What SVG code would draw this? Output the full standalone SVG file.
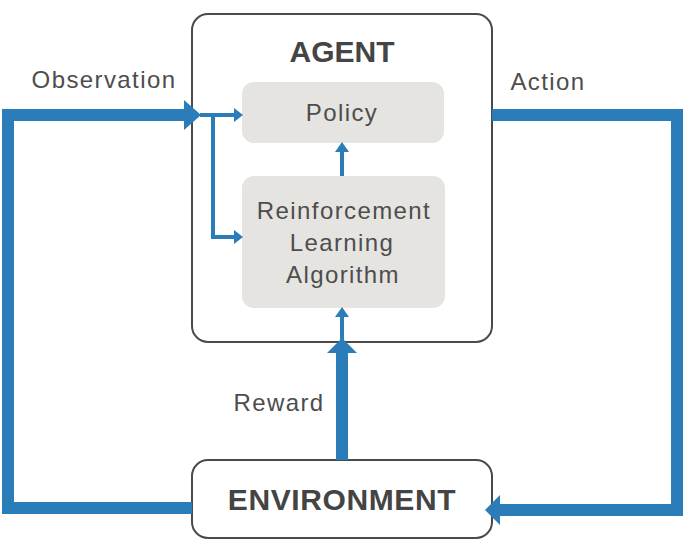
<svg xmlns="http://www.w3.org/2000/svg" width="690" height="543" viewBox="0 0 690 543">
<style>
.box{fill:#fff;stroke:#4a4a4a;stroke-width:2}
.inner{fill:#e5e4e0;stroke:none}
.t{font-family:"Liberation Sans",Arial,sans-serif;font-size:24px;fill:#4d4d4d;letter-spacing:1.4px;text-anchor:middle}
.b{font-family:"Liberation Sans",Arial,sans-serif;font-size:30px;font-weight:bold;fill:#444;text-anchor:middle}
.thick{fill:none;stroke:#2a7db9;stroke-width:12}
.thin{fill:none;stroke:#2a7db9;stroke-width:4}
.ah{fill:#2a7db9}
</style>
<rect width="690" height="543" fill="#fff"/>
<g id="agent">
<rect class="box" x="192" y="14" width="300" height="328" rx="16"/>
<text class="b" x="342" y="62">AGENT</text>
</g>
<g id="policy">
<rect class="inner" x="242" y="82" width="202" height="61" rx="12"/>
<text class="t" x="342" y="121">Policy</text>
</g>
<g id="rl">
<rect class="inner" x="242" y="176" width="203" height="132" rx="12"/>
<text class="t" x="344" y="219">Reinforcement</text>
<text class="t" x="342" y="251">Learning</text>
<text class="t" x="343" y="283">Algorithm</text>
</g>
<g id="environment">
<rect class="box" x="192" y="460" width="300" height="78" rx="16"/>
<text class="b" x="342" y="510" style="letter-spacing:0.6px">ENVIRONMENT</text>
</g>
<g id="connectors">
<polyline class="thick" points="192,508 8,508 8,115 186,115"/>
<polygon class="ah" points="184,100 201,115 184,130"/>
<polyline class="thin" points="200,115 236,115"/>
<polygon class="ah" points="234,108 243,115 234,122"/>
<polyline class="thin" points="213,115 213,237 236,237"/>
<polygon class="ah" points="234,230 243,237 234,244"/>
<polyline class="thin" points="342,176 342,150"/>
<polygon class="ah" points="335,152 342,142 349,152"/>
<polyline class="thick" points="342,460 342,350"/>
<polygon class="ah" points="327,353 342,338 357,353"/>
<polyline class="thin" points="342,340 342,315"/>
<polygon class="ah" points="335,317 342,307 349,317"/>
<polyline class="thick" points="492,115 677,115 677,510 498,510"/>
<polygon class="ah" points="500,495 485,510 500,525"/>
<text class="t" x="104" y="88">Observation</text>
<text class="t" x="548" y="90">Action</text>
<text class="t" x="279" y="411">Reward</text>
</g>
</svg>
